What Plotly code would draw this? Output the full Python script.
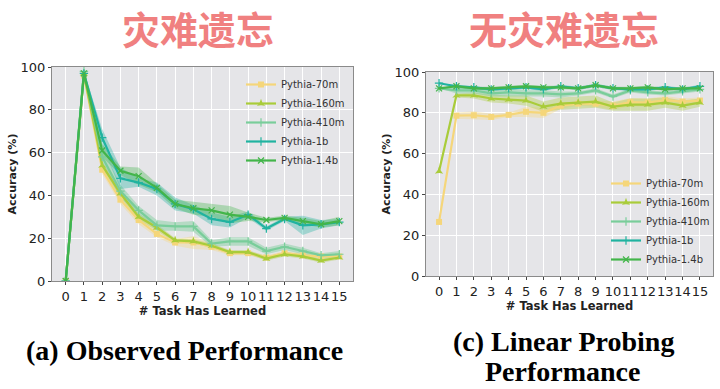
import plotly.graph_objects as go

tasks = list(range(16))
models = ["Pythia-70m", "Pythia-160m", "Pythia-410m", "Pythia-1b", "Pythia-1.4b"]
colors = ["#F5D67A", "#A9CC3A", "#79CD9A", "#20B3A0", "#43B54A"]
fills = ["rgba(245,214,122,0.35)", "rgba(169,204,58,0.35)", "rgba(121,205,154,0.45)",
         "rgba(32,179,160,0.35)", "rgba(67,181,74,0.35)"]
symbols = ["square", "star-triangle-up", "cross-thin", "cross-thin", "x-thin"]

# (a) Observed performance
obs_70m = [0, 96, 52, 38, 28.5, 22, 18, 18, 16, 13, 13, 11, 13, 12, 11.5, 11.5]
obs_160m = [0, 97, 54, 41, 30, 25, 19, 18.5, 16.5, 13.5, 13.5, 10.5, 12.5, 11.5, 9.5, 11]
obs_410m = [0, 98, 58, 42, 33, 26, 25.5, 25.5, 17.5, 18.5, 18.5, 14, 16, 14, 12, 12.5]
obs_1b = [0, 97, 67, 48, 46, 43, 36, 33.5, 29, 27.5, 31, 24.5, 29, 26, 26.5, 27.5]
obs_14b = [0, 97, 61, 51.5, 49, 43.5, 36, 34, 33, 31, 30, 28.5, 29.5, 28, 26.5, 28]
obs_std_70m = [0, 1, 2, 2, 2, 1.5, 1.5, 3, 1.5, 1, 1, 1, 1, 1, 1, 1]
obs_std_160m = [0, 1, 2, 2, 1.5, 1.5, 1, 1, 1, 1, 1, 1, 1, 1, 1, 1]
obs_std_410m = [0, 1, 4, 3, 2, 2.5, 2, 2.5, 1.5, 2, 2, 1.5, 1.5, 1.5, 1, 1.5]
obs_std_1b = [0, 1, 4, 5, 2, 3, 3, 2, 3, 2.5, 1.5, 1, 1, 4.5, 2, 1.5]
obs_std_14b = [0, 1, 3, 2, 4, 2, 2, 3, 3, 4, 2, 1, 1, 1.5, 1.5, 2]

# (c) Linear probing performance
lp_70m = [26.5, 78.6, 78.8, 78, 79, 80.5, 80, 83.5, 84.5, 84.5, 83.5, 85.2, 85, 86.2, 85.5, 86]
lp_160m = [51.3, 88.5, 88.5, 87, 86.5, 86, 83, 84.5, 85, 85.5, 83, 84, 84, 85, 83.5, 85]
lp_410m = [92, 91, 91, 89.5, 90, 89.5, 89.5, 89, 89.5, 91, 88, 91, 90, 89.5, 90.5, 91.5]
lp_1b = [94.5, 93, 92.5, 91.5, 92, 92.5, 91.5, 93, 92, 93.5, 92, 91.5, 91.5, 92.5, 91.5, 93]
lp_14b = [92, 93, 92, 92, 92.5, 93, 92.5, 92.5, 92, 93.5, 92, 92, 92.5, 91.5, 92, 92]
lp_std_70m = [0, 1.5, 2, 1.5, 1, 2.5, 2.5, 1.5, 1, 1.5, 2, 2, 2, 2, 1.5, 1.5]
lp_std_160m = [0, 1, 1.5, 2, 2, 2.5, 2.5, 3, 3, 3, 2, 3, 3, 2.5, 2.5, 2]
lp_std_410m = [0, 1.5, 1.5, 1.5, 2, 1.5, 1.5, 1.5, 1, 1, 1, 1, 1, 1, 1, 1]
lp_std_1b = [0, 0.8, 0.8, 0.8, 0.8, 0.8, 0.8, 0.8, 0.8, 0.8, 0.8, 0.8, 0.8, 0.8, 0.8, 0.8]
lp_std_14b = [0, 0.8, 0.8, 0.8, 0.8, 0.8, 0.8, 0.8, 0.8, 0.8, 0.8, 0.8, 0.8, 0.8, 0.8, 0.8]

y_ticks = [0, 20, 40, 60, 80, 100]

obs_means = [obs_70m, obs_160m, obs_410m, obs_1b, obs_14b]
obs_stds = [obs_std_70m, obs_std_160m, obs_std_410m, obs_std_1b, obs_std_14b]
lp_means = [lp_70m, lp_160m, lp_410m, lp_1b, lp_14b]
lp_stds = [lp_std_70m, lp_std_160m, lp_std_410m, lp_std_1b, lp_std_14b]

fig = go.Figure()


def add_panel(means, stds, xa, ya, legend):
    for i, (m, s) in enumerate(zip(means, stds)):
        up = [a + b for a, b in zip(m, s)]
        lo = [a - b for a, b in zip(m, s)]
        fig.add_trace(go.Scatter(
            x=tasks + tasks[::-1], y=up + lo[::-1], fill="toself",
            fillcolor=fills[i], line=dict(width=0), mode="lines",
            hoverinfo="skip", showlegend=False, xaxis=xa, yaxis=ya))
    for i, m in enumerate(means):
        thin = symbols[i].endswith("thin")
        fig.add_trace(go.Scatter(
            x=tasks, y=m, mode="lines+markers", name=models[i],
            line=dict(color=colors[i], width=2.2),
            marker=dict(symbol=symbols[i], size=6, color=colors[i],
                        line=dict(width=1.2 if thin else 0, color=colors[i])),
            xaxis=xa, yaxis=ya, legend=legend))


add_panel(obs_means, obs_stds, "x", "y", "legend")
add_panel(lp_means, lp_stds, "x2", "y2", "legend2")

W, H = 720, 389
axis_common = dict(
    showgrid=True, gridcolor="white", gridwidth=1, zeroline=False,
    showline=True, mirror=True, linecolor="#8a8a8a", linewidth=1,
    ticks="outside", ticklen=3, tickcolor="#444", tickwidth=1, automargin=False,
    tickfont=dict(family="DejaVu Sans", size=13, color="#222"),
)
xax = dict(axis_common, range=[-0.75, 15.75], tickmode="array", tickvals=tasks,
           ticktext=[str(t) for t in tasks], tickangle=0,
           title=dict(text="# Task Has Learned", standoff=0,
                      font=dict(family="DejaVu Sans", size=11.5, color="#222", weight="bold")))
yax = dict(axis_common, range=[0, 100], tickmode="array", tickvals=y_ticks,
           title=dict(text="Accuracy (%)", standoff=1,
                      font=dict(family="DejaVu Sans", size=11, color="#222", weight="bold")))

fig.update_layout(
    width=W, height=H, margin=dict(l=0, r=0, t=0, b=0, autoexpand=False),
    paper_bgcolor="white", plot_bgcolor="#E5E5E8",
    xaxis=dict(xax, domain=[52 / W, 353 / W], anchor="y"),
    yaxis=dict(yax, domain=[1 - 281 / H, 1 - 67 / H], anchor="x"),
    xaxis2=dict(xax, domain=[426 / W, 713 / W], anchor="y2"),
    yaxis2=dict(yax, domain=[1 - 276 / H, 1 - 72 / H], anchor="x2"),
    legend=dict(x=241 / W, y=1 - 70 / H, xanchor="left", yanchor="top",
                bgcolor="rgba(0,0,0,0)", font=dict(family="DejaVu Sans", size=10, color="#333")),
    legend2=dict(x=606 / W, y=1 - 274 / H, xanchor="left", yanchor="bottom",
                 bgcolor="rgba(0,0,0,0)", font=dict(family="DejaVu Sans", size=10, color="#333")),
    showlegend=True,
)

title_font = dict(family="Noto Sans CJK SC", size=38, color="#F08080", weight="bold")
cap_font = dict(family="Liberation Serif", size=28, color="black", weight="bold")
annots = [
    dict(text="灾难遗忘", x=198 / W, y=1 - 27 / H, font=title_font),
    dict(text="无灾难遗忘", x=564 / W, y=1 - 27 / H, font=title_font),
    dict(text="(a) Observed Performance", x=185 / W, y=1 - 350 / H, font=cap_font),
    dict(text="(c) Linear Probing", x=563 / W, y=1 - 341 / H, font=cap_font),
    dict(text="Performance", x=562 / W, y=1 - 371 / H, font=cap_font),
]
for a in annots:
    fig.add_annotation(xref="paper", yref="paper", showarrow=False,
                       xanchor="center", yanchor="middle", **a)

fig.write_html("out.html", config={"displayModeBar": False, "staticPlot": True},
               post_script="document.body.style.margin='0';document.body.style.overflow='hidden';")
